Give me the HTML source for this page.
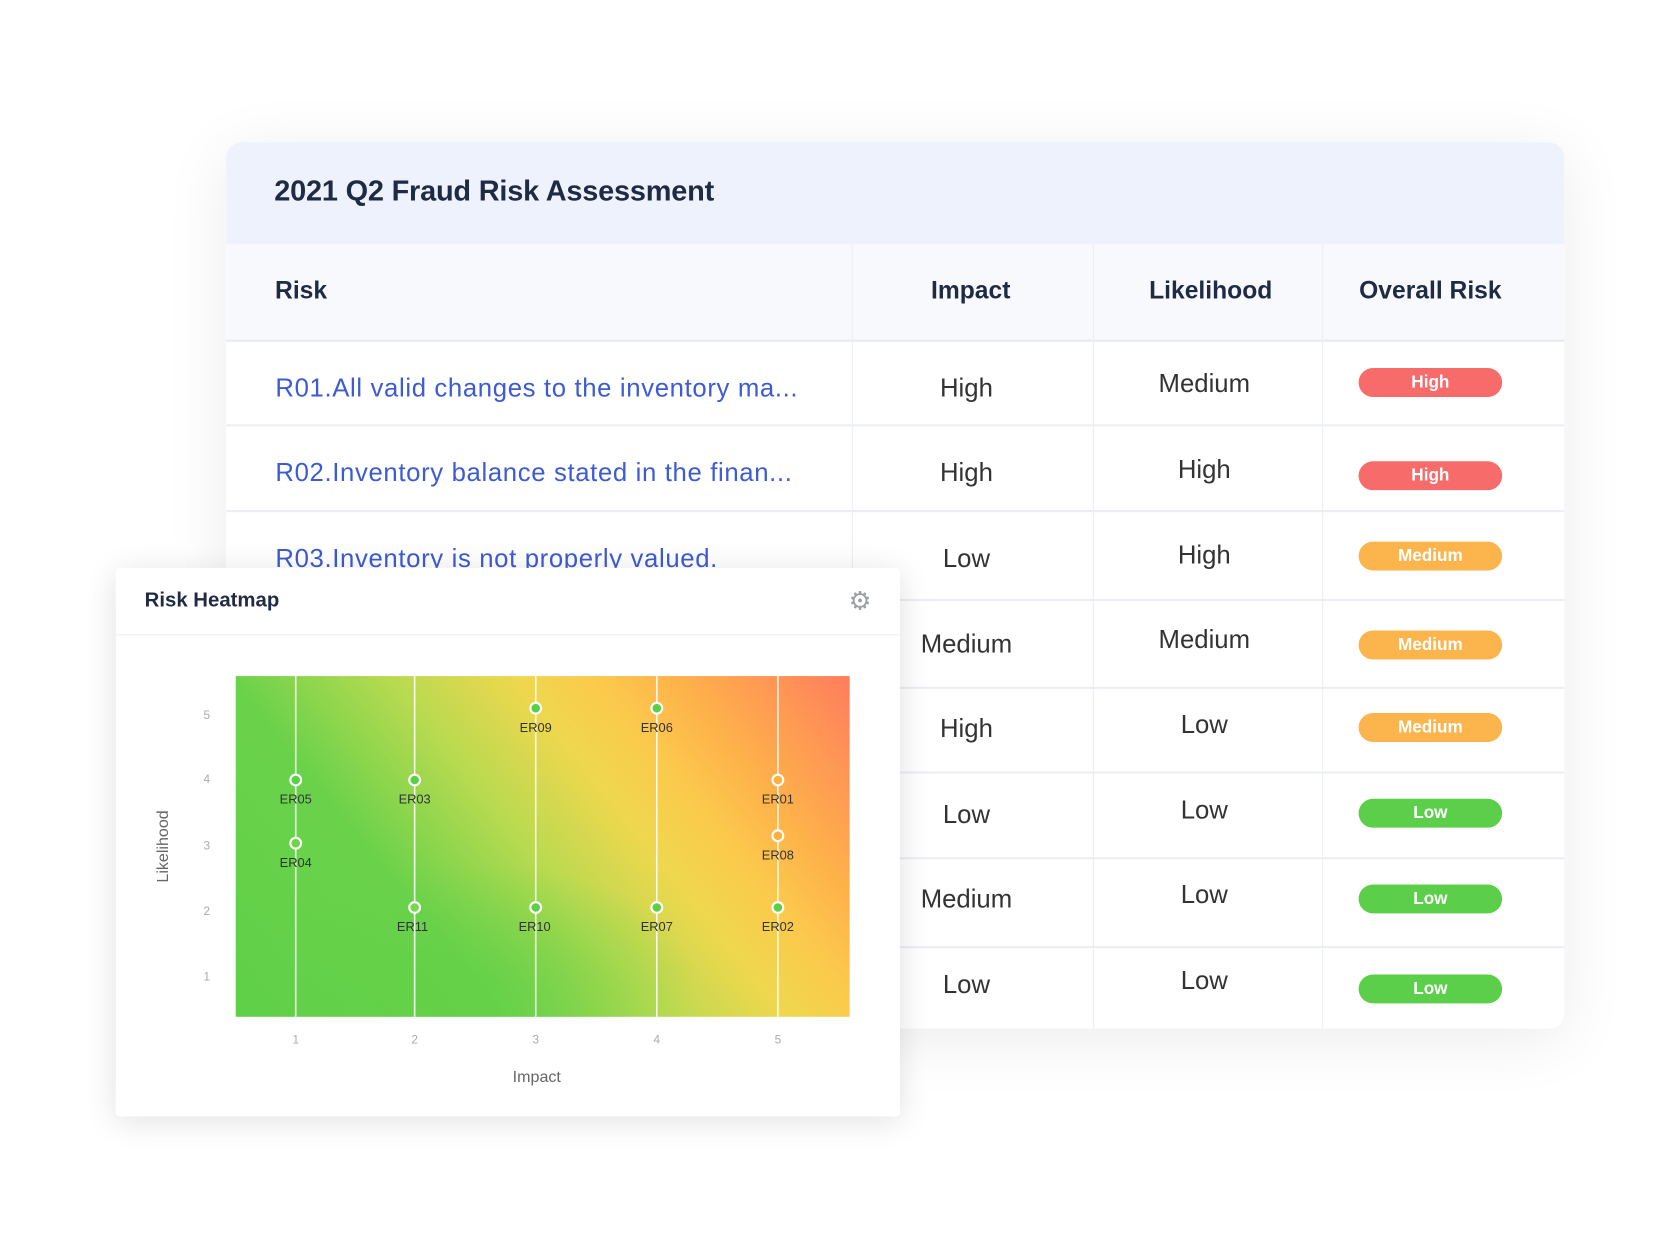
<!DOCTYPE html>
<html><head><meta charset="utf-8"><style>
html,body{margin:0;padding:0;background:#fff;}
body{width:1680px;height:1260px;overflow:hidden;font-family:"Liberation Sans",sans-serif;}
#s{position:absolute;left:0;top:0;width:1568px;height:1176px;transform:scale(1.07143);transform-origin:0 0;}
.card{position:absolute;left:211px;top:133px;width:1249px;height:827px;background:#fff;border-radius:14px;box-shadow:0 10px 60px rgba(0,0,0,0.08);overflow:hidden;}
.hb{position:absolute;left:0;top:0;width:100%;height:95px;background:#eef2fc;}
.title{position:absolute;left:45px;top:30px;font-size:27px;font-weight:bold;color:#1f2a44;letter-spacing:-0.2px;}
.hr{position:absolute;left:0;top:95px;width:100%;height:89px;background:#f8f9fd;border-bottom:2px solid #e8ebf3;}
.vl{position:absolute;top:95px;width:1px;height:732px;background:#eceef4;}
.t{position:absolute;font-size:24px;color:#333;transform:translate(-50%,-50%);white-space:nowrap;}
.h{color:#1f2a44;font-weight:bold;font-size:23px;}
.rl{position:absolute;left:0;width:100%;height:2px;background:#eceef4;}
.lk{position:absolute;left:46px;font-size:24px;color:#3d5bd4;transform:translateY(-50%);white-space:nowrap;letter-spacing:0.6px;}
.b{position:absolute;left:1057px;width:134px;height:27px;border-radius:14px;color:#fff;font-weight:bold;font-size:16px;text-align:center;line-height:27px;transform:translateY(-50%);}
.hm{position:absolute;left:108px;top:530px;width:732px;height:512px;background:#fff;border-radius:4px;box-shadow:0 4px 30px rgba(0,0,0,0.12);}
</style></head><body><div id="s">
<div class="card">
<div class="hb"></div><div class="title">2021 Q2 Fraud Risk Assessment</div>
<div class="hr"></div>
<div class="vl" style="left:584px"></div><div class="vl" style="left:809px"></div><div class="vl" style="left:1023px"></div>
<div class="t h" style="left:70px;top:138px">Risk</div>
<div class="t h" style="left:695px;top:138px">Impact</div>
<div class="t h" style="left:919px;top:138px">Likelihood</div>
<div class="t h" style="left:1124px;top:138px">Overall Risk</div>
<div class="rl" style="top:263px"></div><div class="rl" style="top:343px"></div><div class="rl" style="top:426px"></div><div class="rl" style="top:508px"></div><div class="rl" style="top:587px"></div><div class="rl" style="top:667px"></div><div class="rl" style="top:750px"></div>
<div class="lk" style="top:230px">R01.All valid changes to the inventory ma...</div>
<div class="lk" style="top:309px">R02.Inventory balance stated in the finan...</div>
<div class="lk" style="top:389px">R03.Inventory is not properly valued.</div>
<div class="t" style="left:691px;top:230px">High</div><div class="t" style="left:913px;top:226px">Medium</div><div class="b" style="top:224px;background:#f76b6b">High</div>
<div class="t" style="left:691px;top:309px">High</div><div class="t" style="left:913px;top:306px">High</div><div class="b" style="top:311px;background:#f76b6b">High</div>
<div class="t" style="left:691px;top:389px">Low</div><div class="t" style="left:913px;top:386px">High</div><div class="b" style="top:386px;background:#fbb54c">Medium</div>
<div class="t" style="left:691px;top:469px">Medium</div><div class="t" style="left:913px;top:465px">Medium</div><div class="b" style="top:469px;background:#fbb54c">Medium</div>
<div class="t" style="left:691px;top:548px">High</div><div class="t" style="left:913px;top:544px">Low</div><div class="b" style="top:546px;background:#fbb54c">Medium</div>
<div class="t" style="left:691px;top:628px">Low</div><div class="t" style="left:913px;top:624px">Low</div><div class="b" style="top:626px;background:#5ccf4a">Low</div>
<div class="t" style="left:691px;top:707px">Medium</div><div class="t" style="left:913px;top:703px">Low</div><div class="b" style="top:706px;background:#5ccf4a">Low</div>
<div class="t" style="left:691px;top:787px">Low</div><div class="t" style="left:913px;top:783px">Low</div><div class="b" style="top:790px;background:#5ccf4a">Low</div>
</div>
<div class="hm">
<div style="position:absolute;left:27px;top:20px;font-size:19px;color:#1f2a44;font-weight:bold">Risk Heatmap</div>
<div style="position:absolute;left:684px;top:20px;font-size:24px;color:#9aa0a8;line-height:24px">⚙</div>
<div style="position:absolute;left:0;top:62px;width:100%;height:1px;background:#eceef2"></div>
</div>
<svg style="position:absolute;left:0;top:0" width="1568" height="1176">
<defs>
<linearGradient id="g" gradientUnits="userSpaceOnUse" x1="220" y1="949" x2="725" y2="545">
<stop offset="0" stop-color="#5fd048"/><stop offset="0.3" stop-color="#6ad24a"/><stop offset="0.48" stop-color="#b8da50"/><stop offset="0.62" stop-color="#efd74e"/><stop offset="0.71" stop-color="#fbca4c"/><stop offset="0.8" stop-color="#feb24a"/><stop offset="0.9" stop-color="#ff9854"/><stop offset="1" stop-color="#ff7c5e"/>
</linearGradient>
<radialGradient id="r" cx="0.4" cy="0.9" r="0.35"><stop offset="0" stop-color="#5fd048" stop-opacity="0.6"/><stop offset="1" stop-color="#5fd048" stop-opacity="0"/></radialGradient>
</defs>
<rect x="220" y="631" width="573" height="318" fill="url(#g)"/>
<rect x="220" y="631" width="573" height="318" fill="url(#r)"/>
<g stroke="#fff" stroke-width="1.5" opacity="0.9"><line x1="276" y1="631" x2="276" y2="949"/><line x1="387" y1="631" x2="387" y2="949"/><line x1="500" y1="631" x2="500" y2="949"/><line x1="613" y1="631" x2="613" y2="949"/><line x1="726" y1="631" x2="726" y2="949"/></g>
<g font-family="Liberation Sans" font-size="11" fill="#aaa" text-anchor="middle">
<text x="193" y="671">5</text><text x="193" y="731">4</text><text x="193" y="793">3</text><text x="193" y="854">2</text><text x="193" y="915">1</text>
<text x="276" y="974">1</text><text x="387" y="974">2</text><text x="500" y="974">3</text><text x="613" y="974">4</text><text x="726" y="974">5</text>
</g>
<text x="501" y="1010" font-family="Liberation Sans" font-size="15" fill="#666" text-anchor="middle">Impact</text>
<text transform="translate(157,790) rotate(-90)" font-family="Liberation Sans" font-size="15" fill="#666" text-anchor="middle">Likelihood</text>
<g stroke="#fff" stroke-width="2">
<circle cx="500" cy="661" r="5" fill="#5ccf4a"/><circle cx="613" cy="661" r="5" fill="#5ccf4a"/>
<circle cx="276" cy="728" r="5" fill="#5ccf4a"/><circle cx="387" cy="728" r="5" fill="#5ccf4a"/><circle cx="726" cy="728" r="5" fill="#fbb040"/>
<circle cx="276" cy="787" r="5" fill="#6fd24a"/><circle cx="726" cy="780" r="5" fill="#fbb040"/>
<circle cx="387" cy="847" r="5" fill="#7ad64a"/><circle cx="500" cy="847" r="5" fill="#5ccf4a"/><circle cx="613" cy="847" r="5" fill="#5ccf4a"/><circle cx="726" cy="847" r="5" fill="#5ccf4a"/>
</g>
<g font-family="Liberation Sans" font-size="12" fill="#333" text-anchor="middle">
<text x="500" y="683">ER09</text><text x="613" y="683">ER06</text>
<text x="276" y="750">ER05</text><text x="387" y="750">ER03</text><text x="726" y="750">ER01</text>
<text x="276" y="809">ER04</text><text x="726" y="802">ER08</text>
<text x="385" y="869">ER11</text><text x="499" y="869">ER10</text><text x="613" y="869">ER07</text><text x="726" y="869">ER02</text>
</g>
</svg>
</div></body></html>
